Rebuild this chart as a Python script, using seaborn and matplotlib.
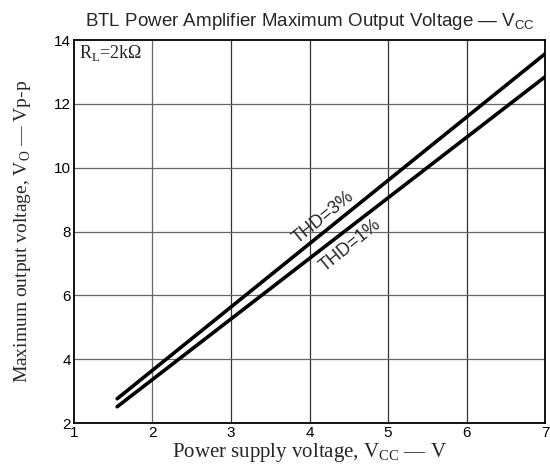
import numpy as np
import pandas as pd
import matplotlib
matplotlib.use('Agg')
import matplotlib.pyplot as plt
import seaborn as sns

# data
vcc = [1.55, 7.0]
thd3 = [2.76, 13.57]
thd1 = [2.51, 12.85]
series = ['THD=3%', 'THD=1%']

xticks = [1, 2, 3, 4, 5, 6, 7]
yticks = [2, 4, 6, 8, 10, 12, 14]

df = pd.DataFrame({
    'vcc': vcc + vcc,
    'vo': thd3 + thd1,
    'thd': [series[0]] * len(vcc) + [series[1]] * len(vcc),
})

sns.set_style('white')
plt.rcParams['font.family'] = ['Liberation Sans', 'DejaVu Sans']
plt.rcParams['mathtext.fontset'] = 'custom'
plt.rcParams['mathtext.rm'] = 'Liberation Serif'
plt.rcParams['mathtext.sf'] = 'Liberation Sans'

fig = plt.figure(figsize=(5.5, 4.72), dpi=100)
ax = fig.add_axes([0.1345, 0.1038, 0.8565, 0.8112])

sns.lineplot(data=df, x='vcc', y='vo', hue='thd', palette=['black', 'black'],
             linewidth=2.6, legend=False, ax=ax, zorder=3)

ax.set_xlim(1, 7)
ax.set_ylim(2, 14)
ax.set_xticks(xticks)
ax.set_yticks(yticks)
ax.tick_params(axis='both', length=0, pad=2, labelsize=11, colors='black')

for x in xticks[1:-1]:
    ax.axvline(x, color='#333333' if x > 2 else '#666666', lw=0.9, zorder=1)
for y in yticks[1:-1]:
    ax.axhline(y, color='#666666', lw=0.9, zorder=1)

for s in ax.spines.values():
    s.set_color('black')
    s.set_linewidth(1.3)

ax.text(1.06, 13.9, r'R$_\mathrm{L}$=2k$\Omega$', family='Liberation Serif',
        fontsize=13, va='top', ha='left', zorder=4,
        bbox=dict(facecolor='white', edgecolor='none', pad=1.5))

ang = 38.9
ax.text(4.17, 8.45, 'THD=3%', rotation=ang, ha='center', va='center',
        fontsize=13, rotation_mode='anchor', zorder=4)
ax.text(4.52, 7.55, 'THD=1%', rotation=ang, ha='center', va='center',
        fontsize=13, rotation_mode='anchor', zorder=4)

ax.set_title(r'BTL Power Amplifier Maximum Output Voltage — V$_\mathsf{CC}$',
             fontsize=13.5, pad=10)
ax.set_xlabel(r'Power supply voltage, V$_\mathrm{CC}$ — V',
              family='Liberation Serif', fontsize=15, labelpad=1)
ax.set_ylabel(r'Maximum output voltage, V$_\mathrm{O}$ — Vp-p',
              family='Liberation Serif', fontsize=14, labelpad=15)

fig.savefig('out.png', dpi=100)
